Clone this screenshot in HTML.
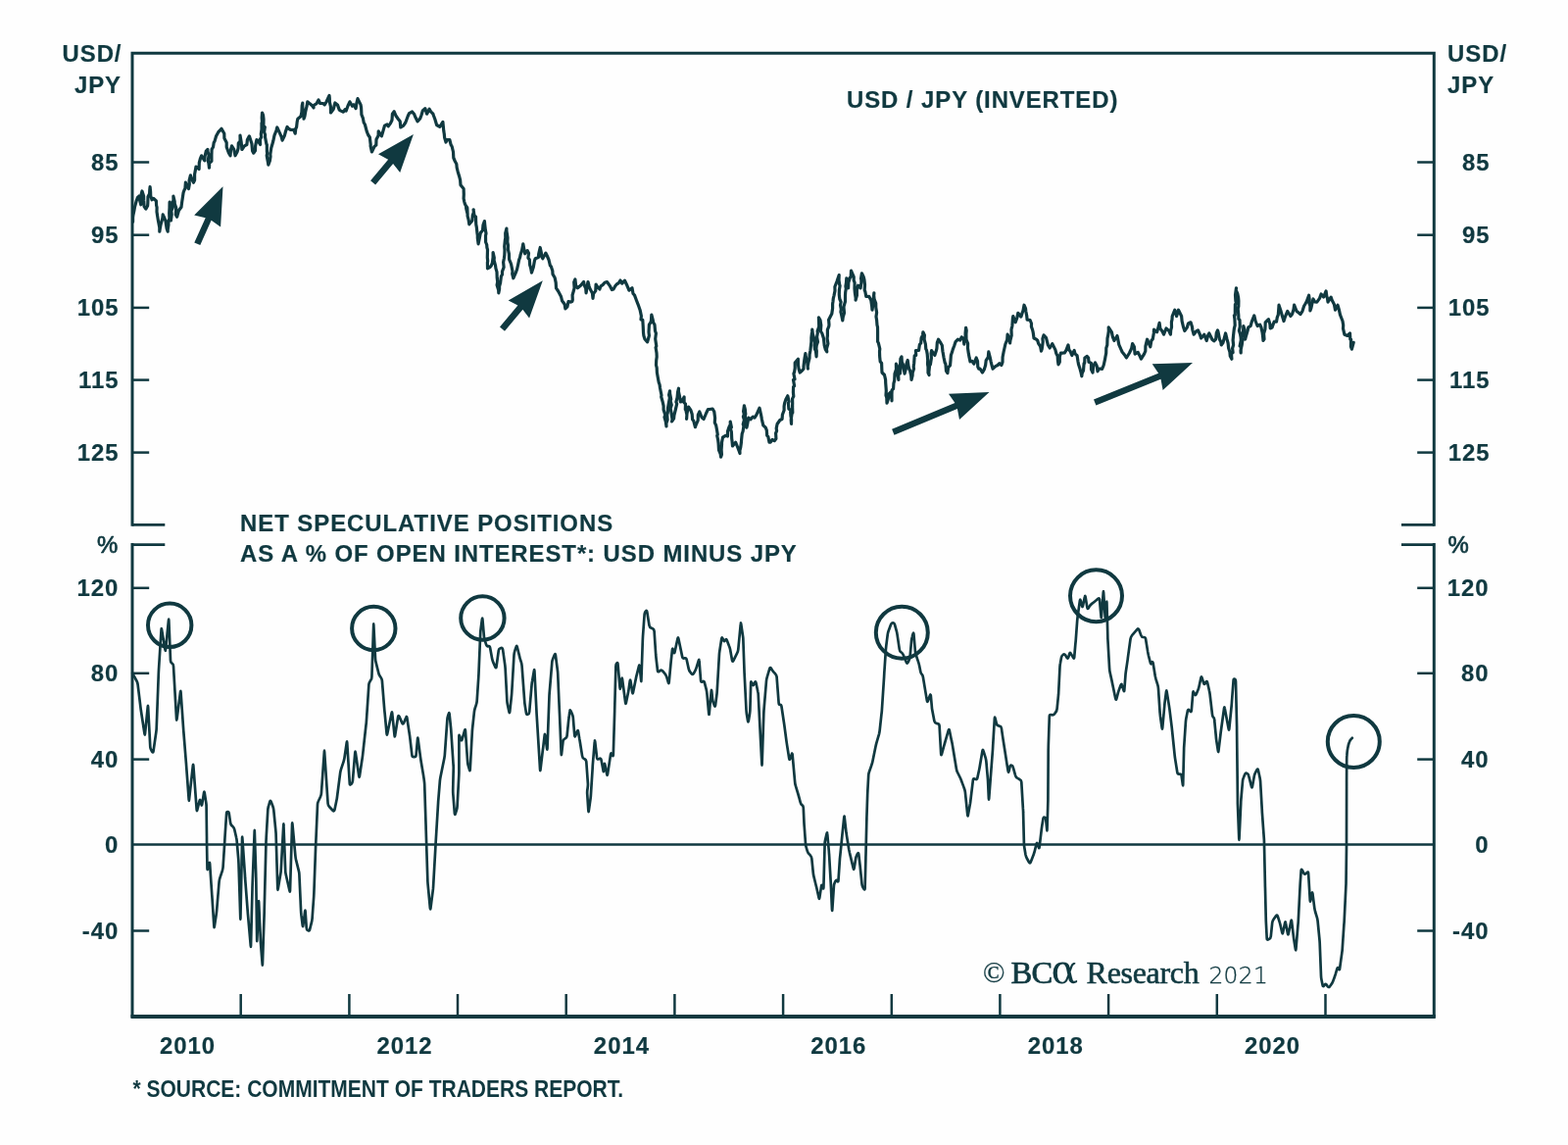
<!DOCTYPE html>
<html lang="en">
<head>
<meta charset="utf-8">
<title>USD / JPY (Inverted) and Net Speculative Positions</title>
<style>
html,body{margin:0;padding:0;background:#fefefe;}
body{width:1600px;height:1168px;overflow:hidden;}
svg{display:block;width:1600px;height:1168px;}
text{font-family:"Liberation Sans",sans-serif;font-weight:bold;fill:#103940;}
.lab{font-size:23px;letter-spacing:0.93px;stroke:#103940;stroke-width:0.2px;stroke-linejoin:round;}
.src{font-size:23px;letter-spacing:0px;}
.cr{font-family:"Liberation Serif",serif;font-weight:normal;font-size:31px;letter-spacing:0px;}
.ax{stroke:#103940;fill:none;stroke-linecap:square;}
.ln{stroke:#103940;fill:none;stroke-linejoin:round;stroke-linecap:round;}
.ar{fill:#103940;}
</style>
</head>
<body>
<svg width="1600" height="1168" viewBox="0 0 1600 1168">
<rect x="0" y="0" width="1600" height="1168" fill="#fefefe"/>
<g class="ax" stroke-width="3.0">
<path d="M135.0 535.3 V54.2 H1463.3 V535.3"/>
<path d="M135.0 555.6 V1036.4"/>
<path d="M1463.3 555.6 V1036.4"/>
</g>
<path class="ax" style="stroke-linecap:butt" stroke-width="4.0" d="M133.5 1037.0 H1464.8"/>
<g class="ax" style="stroke-linecap:butt" stroke-width="2.5">
<path stroke-width="2.7" d="M135.0 535.3 H168.3"/>
<path stroke-width="2.7" d="M1430 535.3 H1463.3"/>
<path stroke-width="2.7" d="M135.0 555.6 H168.3"/>
<path stroke-width="2.7" d="M1430 555.6 H1463.3"/>
<path d="M135.0 165.5 H152.2"/>
<path d="M1446.2 165.5 H1463.3"/>
<path d="M135.0 239.7 H152.2"/>
<path d="M1446.2 239.7 H1463.3"/>
<path d="M135.0 313.9 H152.2"/>
<path d="M1446.2 313.9 H1463.3"/>
<path d="M135.0 387.6 H152.2"/>
<path d="M1446.2 387.6 H1463.3"/>
<path d="M135.0 461.6 H152.2"/>
<path d="M1446.2 461.6 H1463.3"/>
<path d="M135.0 599.8 H152.2"/>
<path d="M1446.2 599.8 H1463.3"/>
<path d="M135.0 686.8 H152.2"/>
<path d="M1446.2 686.8 H1463.3"/>
<path d="M135.0 774.6 H152.2"/>
<path d="M1446.2 774.6 H1463.3"/>
<path d="M135.0 949.5 H152.2"/>
<path d="M1446.2 949.5 H1463.3"/>
<path stroke-width="2.5" d="M135.0 861.5 H1463.3"/>
<path d="M245.7 1014 V1036.4"/>
<path d="M356.4 1014 V1036.4"/>
<path d="M467 1014 V1036.4"/>
<path d="M577.7 1014 V1036.4"/>
<path d="M688.4 1014 V1036.4"/>
<path d="M799.1 1014 V1036.4"/>
<path d="M909.8 1014 V1036.4"/>
<path d="M1020.4 1014 V1036.4"/>
<path d="M1131.1 1014 V1036.4"/>
<path d="M1241.8 1014 V1036.4"/>
<path d="M1352.5 1014 V1036.4"/>
</g>
<path class="ln" stroke-width="3.2" d="M135.6 226.2 L135.6 221.7 L135.9 219.4 L136.8 215.2 L137.5 211.2 L139 205.6 L140.3 201.7 L141.9 200 L142.2 202.5 L143.8 208.8 L144.7 203.8 L144.2 197.9 L145 195 L146.6 200.1 L146.7 204.4 L147.1 210.7 L148.8 213.1 L150.6 210 L150.8 207.7 L151 200.7 L152.6 197.5 L152.8 193.1 L153.1 190.6 L153.6 195.6 L153.7 199.6 L155 203.8 L156.7 202.4 L159.4 205 L159.6 209.5 L160.1 211.7 L160 216 L160.6 220 L161.5 225.4 L161.8 227 L162.8 232.3 L162.8 236.2 L163.3 232.9 L163.9 229.6 L165.8 222.8 L166.2 218.8 L167.5 221.6 L169 225.5 L170.1 233 L171.2 236.2 L171.2 234.2 L171.9 229.6 L171.9 225.4 L172.9 222.7 L172.7 217.4 L173 211.8 L173.6 210.6 L173.1 206.2 L173 211.4 L173.9 213.2 L173.8 215.4 L173.5 219.8 L174.4 225 L175.2 218.9 L174.8 215 L176.2 212 L176 206.5 L177 204.4 L176.9 200 L178.2 205.7 L178.2 207.5 L179.7 212.1 L179.3 219 L180.6 221.2 L182.4 214.8 L185 211.2 L185.7 205.9 L186.1 203.3 L187.1 196.6 L188 194 L188.9 192.4 L189.4 186.2 L192.5 192.5 L193.3 188 L193.1 184.1 L194.4 178.8 L196.4 184.3 L197.5 186.2 L198.6 183.8 L198.6 177.7 L199.6 172.3 L200 170 L203.1 172.5 L203.3 166 L204.3 162.1 L205.6 158.8 L208.8 163.8 L209.1 159.3 L210.3 154.1 L211.9 152.5 L212 154.5 L213.1 157.9 L212.3 164.3 L212.9 166.4 L213.5 171.2 L213.7 166.4 L215.9 164.3 L215.9 158.4 L216.1 152.4 L217.5 150 L218.2 145.6 L219.1 143.9 L220.6 138.8 L223.1 134.2 L223.7 133.9 L226 131.2 L228.8 136.2 L228.9 141 L231.2 145.5 L231.2 150 L233.4 156 L235 158.8 L235.5 152.7 L236.5 148.8 L238.7 152.3 L240 158.8 L242 155.1 L243.1 151.2 L243.3 146.1 L245.1 143.9 L245 138.1 L246.1 144.5 L246.6 149.1 L246.9 152.5 L249.4 148.8 L251.9 147.5 L252.4 142.5 L254.4 138.8 L255.1 141 L256.9 146.4 L257.6 153.9 L258.8 156.2 L260.5 153.6 L260.6 149.1 L261.9 142.5 L263.3 143.8 L265.6 147.5 L265.4 142.1 L266.7 139.9 L266.3 136.8 L267 131.9 L267 125.4 L267.5 124.9 L267.2 120.2 L267.5 115 L268.5 117.3 L269 121.8 L268.9 128.3 L270.3 129.6 L269.6 134.7 L270.6 137.5 L270.5 139.7 L271.9 146.9 L272.3 147.4 L272.4 154.9 L272.7 156 L272.2 158.8 L273.6 166.4 L273.8 168.1 L275.3 164.2 L276 159.7 L275.8 157.4 L276.8 150.8 L278 146.7 L278.8 143.8 L280 138.1 L282 133 L282.8 130 L284.5 133.7 L287 139.1 L288.1 143.1 L290.4 138.2 L291.5 134 L293.1 129.4 L294.4 131.2 L296.7 132.5 L299.7 132.3 L301.2 136.2 L301.8 131.1 L302.6 129.7 L303.2 124.2 L303.8 121.2 L306.9 118.8 L307.9 114.4 L308.2 107.9 L308.8 105 L308.7 108 L309.4 114.3 L310.1 117.5 L310 121.2 L310.9 118.7 L311.9 113 L313.1 108.2 L313.8 103.8 L315.9 105.6 L318.6 107.8 L320 110 L320 107.5 L323.1 105.6 L325 101.9 L326.7 105.5 L329.8 105.5 L331.2 106.9 L333.1 103.7 L336 97.5 L336.3 100.2 L336.4 104.4 L337.4 108.7 L337.5 115 L340.3 111.2 L341.9 105 L344.4 106.9 L346.2 111.9 L347.4 112.9 L350.4 114.2 L352.1 111.6 L353.1 113.1 L355 108 L356.9 103.8 L359.5 108.2 L360.9 106.8 L363.1 110.6 L363.8 105.7 L365 100.6 L368.1 106.9 L368.6 110.1 L368.9 116.9 L370.4 120.7 L371.2 125 L372.4 127 L374.2 133.9 L375.6 137.5 L377.3 140 L378.2 147.5 L378.1 148.9 L379.4 155 L382 149.5 L383.8 148.1 L384 142.3 L386.1 138.2 L386.2 133.8 L389.4 138.8 L390.6 134.8 L392.5 128.1 L395 126.9 L396.2 128.8 L398.4 125.9 L400 122.5 L400.4 116.3 L402.2 113.8 L404.1 118.3 L406.2 121.2 L408.2 123.7 L408.8 130 L411.7 128.1 L413.8 125 L416.2 118.5 L417.5 115.6 L420.6 114 L422.5 116.2 L424 119.8 L426 123.8 L428.7 120.9 L430 117.5 L431.3 113 L433.8 110.6 L435.6 116.2 L438.1 111.2 L439.6 113.9 L441.9 116.2 L442.6 118.3 L443.9 121.8 L445.6 127.5 L448.8 129.4 L451.9 124.4 L452.2 127.7 L452.8 133.8 L453.3 136.8 L453.6 140.2 L455 145 L456.1 142.7 L458.8 142.5 L460.1 147.7 L461.2 149.5 L462.5 155 L462.8 161 L464.3 164.5 L465.8 167.2 L466.2 171.2 L467.2 175.2 L468.9 180.8 L469.6 183.7 L470 188.8 L473.1 192.5 L473.3 198.4 L473.1 202.5 L473.8 205.8 L474.4 208 L476.3 211.9 L476.9 217.5 L475.7 212.7 L475.6 210 L476.8 211.9 L477.1 219.1 L477.1 220.3 L478.1 224.1 L478.8 228.8 L481.9 225 L482.2 219.7 L483.4 216.5 L483.1 213.8 L484 220 L485.5 221 L485.6 226.2 L485.8 229.2 L486.3 231.6 L486.9 237.4 L487.3 239.9 L487.3 242.8 L488.1 248.8 L489.4 242.4 L490.3 237.6 L492.5 235 L493 229.5 L494.4 225.6 L494.8 229.8 L495.3 234.4 L496 238.1 L495.5 240.5 L495.6 247 L496.7 249.6 L496.9 252.5 L497.5 254.7 L497.3 262.7 L497.7 266.3 L497.4 267.9 L497.5 273.8 L499.9 272.5 L501.2 271.2 L502.4 268 L503.1 262.5 L503.1 257.5 L504.3 262.9 L504.1 265.5 L505.6 271.2 L505.9 273.6 L507 277.4 L507.2 283.3 L507.7 287.5 L507.1 290.8 L508.7 296.1 L508.8 298.8 L509.6 295 L509.6 292 L510.6 288.5 L511.4 281.9 L512.5 280 L512.5 276.8 L514.1 272.7 L513.6 267.5 L514.4 263.2 L514.8 260.3 L515 255 L514.7 251.3 L515.4 244.7 L515.8 242.9 L515.7 237.8 L516.9 233.1 L516.9 235.5 L518 242.4 L517.8 246.7 L518.5 250.3 L518.4 254.3 L519.4 258.8 L519.6 264.6 L521.5 269.2 L521.5 269.1 L523 276.8 L522.7 279.4 L523.8 283.8 L526.3 278.1 L527.5 275 L528.7 269.6 L529.6 265.1 L530.6 262.5 L531.1 259.9 L532.7 254.7 L533.8 248.8 L535 255.5 L535.6 258.8 L538.1 255.6 L539.5 258.2 L538.9 263.1 L540.3 264.7 L540.7 270.4 L541.5 272.8 L542.5 278.1 L544.3 272.5 L545.4 266.3 L546.2 263.8 L549.4 262.5 L549.7 259 L551.2 252.5 L552.4 258.1 L552.6 261.8 L553.8 263.8 L556.9 258.1 L558.3 261 L560 265 L561.4 270.9 L562.4 271.9 L563.8 276.2 L564 279.6 L566.1 283.2 L567.2 288.4 L567.5 293.8 L569.6 297 L572.5 302.5 L573.5 306.7 L576.1 310.3 L576.9 315 L578.9 312.9 L580 307.5 L582.5 308.1 L583.8 307.5 L584.3 305.7 L584.1 301 L585.2 297.3 L586.1 293.6 L585.7 287.8 L586.9 285 L587.6 291.3 L589.4 293.8 L592.5 291.2 L595.6 287.5 L596.2 291.1 L597.7 294.1 L598.1 298.8 L598.4 297.1 L599.1 291.9 L600 287.5 L601.1 292 L602 294.5 L604.4 298.9 L605 304.4 L605.6 299.6 L607.8 296.6 L608.1 290 L609.4 292.3 L611.9 295 L613.1 291.8 L615 290.6 L617.1 288.2 L619.4 287.5 L622.5 291.9 L624.4 295.6 L626 295 L627.8 291.8 L629.3 289.9 L631.2 288.8 L633 286 L634.8 289.1 L637.5 286.2 L639.9 291.3 L641.9 296.2 L645 293.8 L646 299.5 L647.5 301.1 L649.4 306.2 L651.2 310.8 L653.1 316.2 L654.4 322.3 L654 326 L655.8 326.4 L656.2 332.5 L656.5 339.2 L656.9 342.5 L658 346 L660.6 348.8 L661.9 344.3 L662.4 342.3 L662 338.9 L662.4 331.2 L663.9 329 L664.5 326.9 L664.8 321 L666.1 325.8 L666.7 329.1 L668 331.3 L668.5 337.5 L669.4 340.1 L668.7 345.6 L668.9 347.1 L669.8 353.1 L669.1 354.5 L670 360 L670.2 364.1 L669.7 367.5 L669.5 372.4 L670.2 375.1 L670.4 380 L671.5 386.2 L672.2 390 L673.1 392.5 L673.5 395.7 L675 403.3 L674.7 404.8 L676.2 410 L677.1 414.2 L677.1 418 L678.8 423.2 L678 425.5 L679.3 430.1 L680 435 L679.9 431.8 L681.1 428.3 L680.7 422.9 L681.3 421 L681.5 416.3 L682.7 409.6 L683.4 405.9 L682.6 402.8 L683.5 398.8 L683.6 401.4 L684.7 407.3 L684.1 408.9 L685.3 413.1 L684.1 416.7 L684.9 420.3 L686 427.8 L685.6 430 L687.6 426.9 L687.9 423.6 L689.4 417.5 L690.7 411.9 L689.9 410.1 L691.1 405.5 L691.6 399.9 L692.5 396.2 L692.4 399.4 L693.5 404.4 L694.4 410 L695.7 409.5 L698.1 405 L698.1 410.8 L699.5 411.9 L699.3 417.7 L699.8 418 L700.9 423.2 L700.6 427.5 L701 422 L701.2 420.9 L702.5 415 L704.9 418.4 L706.2 422.5 L706.6 428 L707.7 429.2 L709.4 435.6 L710.1 433.6 L712.2 428.9 L712.3 423.2 L713.8 420 L716.1 425.8 L718.1 427.5 L720.6 421.5 L722.5 417.5 L724.2 417.5 L727.1 417 L728.8 420 L729.6 426.4 L729.3 431.1 L730.6 433.8 L731.1 436.3 L732.3 443.3 L731.7 444.5 L732.6 448.4 L733.1 452.5 L733.5 459 L735.2 463 L735.6 466.2 L736.4 463.7 L736.1 458.7 L736.5 453.5 L736.5 451.5 L737.5 446.2 L740.4 444.3 L742.5 445 L742.5 440.1 L744 435.4 L745.3 433 L745.2 430 L746.4 435.9 L745.4 437.3 L746.4 440.7 L746.7 447.6 L747 449.7 L747.5 455 L750.6 451.2 L752.4 455.5 L754.1 459.8 L755 462.5 L754.9 459.5 L755.7 456.5 L756.4 451.5 L756.6 448.5 L757.2 442.6 L758.1 440 L758.9 434.7 L758.2 432.8 L759.4 428.3 L758.4 425 L759.3 422.6 L758.6 419.7 L759.4 413.8 L760.3 417.4 L760.8 422.7 L760.3 423 L760.6 427.1 L761.6 434.6 L761.9 436.2 L762.6 433.1 L763.8 426.2 L765.8 427.9 L768.3 425.2 L770 426.2 L771.9 423.2 L775 416.2 L776.1 421 L776.7 423.8 L777.4 427.8 L778.8 433.8 L781.2 436.2 L782.3 438.9 L782.7 444.4 L783.8 445.4 L785 451.2 L786.2 451.1 L788 448.5 L790.2 449.7 L791.9 447.5 L791.6 441.8 L792.6 439.5 L792.2 436.9 L793.1 432.5 L795.9 428.5 L798.1 427.5 L798.4 423 L800.1 418.5 L800.1 414.5 L800.6 411.2 L802.1 406.9 L803.8 403.8 L805.1 409.5 L804.4 411.4 L804.9 417.1 L806.5 418 L806.9 424 L807.6 428 L807.5 432.5 L807.2 428.3 L808 422.2 L808.8 420.9 L808.6 414.4 L808.7 411.6 L808.6 406.6 L809.8 404.2 L809.4 400 L809.6 394.5 L810.6 393.8 L809.5 387.4 L811 386.9 L809.9 381.2 L810.6 379.4 L811.2 375.5 L811.2 370 L814.4 366.2 L814.5 372.3 L815.2 376.7 L816.2 380 L818.7 377.7 L820 376.2 L820 373.8 L820.8 367.2 L821.2 364.6 L821.9 360.6 L822.1 362.9 L823.7 369.4 L823.8 370.3 L824.4 376.2 L824.2 373.6 L824.8 370.2 L826 365.4 L826.1 361.8 L826.9 357.5 L827.4 352.9 L827.9 348.7 L827.9 344.5 L828.6 338.4 L828.8 336.2 L829.3 340.6 L830.6 345 L831.6 349.9 L831.1 352.3 L831.5 356.1 L832.5 358.4 L833.1 363.8 L833.3 358 L832.9 355.8 L833.2 352.4 L834.5 348.8 L833.6 343.8 L834.3 339.8 L834.1 337.7 L835.7 333.3 L835.6 328.8 L835.4 323.8 L837 326.5 L837.8 331.8 L837.4 337.8 L838.8 340 L840.4 345 L840.5 345.6 L841.2 352.4 L842.4 356.7 L843.8 358.8 L843.4 356.1 L844.9 350.6 L844.1 345.3 L844.4 342.5 L844.4 336.4 L845.8 332.9 L846 331.1 L845.6 326.2 L848.8 320 L849.6 314.4 L849.6 310 L850 307.5 L850.3 304.3 L851 301.6 L852 296.6 L851.9 292.5 L854.1 286.8 L854.6 285.2 L856.2 280.6 L856 285.8 L856.7 290.4 L857.1 291.5 L856.4 295.7 L856.3 300.8 L856.8 305 L858.1 308 L857.5 311.2 L858.3 315.5 L857.9 318.2 L858.6 320.9 L859.8 326.9 L860.2 323.5 L861.5 319.2 L861 313.6 L861.2 312 L862.5 307.5 L862.5 301.4 L862.7 297.9 L863.3 294.4 L862.9 292.1 L863.5 288.3 L863.8 283.8 L865.4 287.1 L865.6 293.8 L865.8 288.2 L867.3 283.2 L868.2 282.3 L868.5 276.2 L871.2 282.5 L871.2 286 L872.1 288.3 L872 294.6 L872.4 299 L873.2 304.2 L873.1 306.2 L874.4 301.4 L874.4 296.7 L874.6 294.6 L875.6 291.2 L878.1 293.8 L878.9 288.1 L878.8 284.1 L878.5 284.4 L879.4 278.8 L881.2 282.5 L881.9 285.2 L882.5 290.5 L882.2 295.9 L882.9 297.7 L883.8 302.5 L886.8 302.4 L888.8 306.2 L889.7 312.5 L890 316.2 L891 309.7 L890.9 308.6 L891.3 304.2 L891.9 298.8 L891.7 301.3 L892.1 305.1 L893.7 309.3 L893.8 313.8 L894.6 318.8 L894 323 L894.6 326.5 L895 331.7 L895.5 333.6 L895.6 338.8 L895.6 344.8 L895.6 348.4 L896.3 349.7 L897.8 355.8 L897.5 358.8 L897.7 364.1 L898.2 368.9 L899.6 370.4 L899.8 376.3 L900 380 L902.5 382.5 L903.6 387.3 L903.7 390.6 L904.1 395.7 L904.3 398.7 L904 403.3 L904.8 405.9 L905 411.2 L906.9 405.6 L906.8 402.2 L908.8 400 L910 402.6 L910 408.8 L909.9 403.7 L910.2 397.9 L911.6 396.5 L911.9 391.2 L912.7 388.1 L913 381.3 L913.9 378.6 L914.5 376.7 L914.4 371.2 L915.6 373.4 L916.3 381.2 L915.8 381.7 L916.9 387.5 L916.7 381.8 L918.4 381.1 L918.9 376.2 L918.6 372.2 L918.9 365.9 L920 363.8 L920.3 369.3 L921.4 371.7 L922 374.8 L923.1 381.2 L924.5 375.7 L924.9 371.5 L926.2 367.5 L927 373.5 L927.9 377 L928.4 377.4 L929.7 383.2 L930 387.5 L931.1 383.1 L931.2 380.2 L932.5 376.2 L932.2 374.1 L932.7 370.2 L933.2 362.8 L934.7 362.4 L934.4 357.5 L937.5 357.5 L938.4 351.6 L939.7 350 L940.1 344.9 L941.5 341.8 L941.9 338.8 L943.4 341.9 L943.1 346.1 L944.4 351.2 L944.8 356 L945.5 357.3 L946.2 361.1 L946.7 367.7 L946.5 371.3 L947 374.3 L947 380.3 L948.1 382.5 L947.8 380 L948.6 372.9 L949.4 371.8 L950.4 365.3 L950.1 360.5 L950.6 357.5 L953.8 362.5 L955.1 358.6 L955.9 355.5 L956.3 349.6 L957.5 346.2 L960 350 L961.3 352.2 L961.9 358.2 L962.2 359.8 L963.1 365 L964.2 370.1 L964.9 371.2 L965.5 378.4 L966.9 380.6 L967.6 374.9 L969.5 372.8 L970 367.5 L970.4 362.2 L971.6 358.9 L972.3 356.3 L973.8 352.5 L975.1 348.6 L977.5 346.2 L979.7 347.1 L981.2 343.8 L983.2 345.7 L983.8 351.2 L984 345.3 L985.1 344.9 L985.1 339.6 L985.6 334.4 L986.2 337.2 L985.9 340.9 L986 346.3 L987.6 350.4 L987.5 355 L988.3 360.4 L989.1 364.7 L990 368.8 L992 368.4 L993.8 371.2 L996.2 365 L997.5 368.3 L997.8 374.3 L998.8 376.2 L1000 376.2 L1002.5 380 L1004.4 376.6 L1005.6 372.5 L1006.2 367.6 L1008.3 364.3 L1008.8 358.8 L1010.2 364.3 L1011.2 369.1 L1012 372.5 L1013.1 376.2 L1015.8 373.6 L1018.1 372.5 L1019.9 370.7 L1021.9 372.5 L1023 369.4 L1023.1 364.3 L1024.1 359 L1025 355 L1025.9 351 L1027.7 346.6 L1028.1 341.2 L1029.6 344.2 L1030.6 350 L1030.9 347.3 L1032.2 342.1 L1032 336.2 L1032.8 332.8 L1032.9 332.3 L1033.4 324.7 L1033.8 322.5 L1036.2 328.8 L1037.8 324.2 L1038.8 319.4 L1041.9 323.1 L1043.1 319.2 L1044 316.7 L1045 311.2 L1046.5 314.6 L1046.8 317.5 L1047.7 322 L1048.1 326.2 L1051.1 326.5 L1052.5 330 L1052.4 333.1 L1053.6 336.5 L1054.2 339.1 L1055 345 L1057.2 345.9 L1058.8 347.5 L1059.6 350.4 L1061.6 353.4 L1062.5 358.1 L1063.2 356 L1064.2 348.8 L1063.9 345.5 L1065 341.9 L1067.5 344.6 L1069.4 352 L1071.2 355 L1073.8 350.6 L1076.9 356.9 L1077.8 360.5 L1079.2 363.2 L1079.4 367.5 L1080 371.9 L1081.3 369.3 L1081.3 363.8 L1082.5 360 L1083.8 360.2 L1086.2 360 L1087.9 357.4 L1090 351.9 L1090.9 357 L1092.1 358.4 L1093.8 362.5 L1096.2 357.5 L1097 360.9 L1099.1 362.8 L1100 368.8 L1100.5 371.5 L1101.8 375.4 L1103 379.7 L1103.8 383.8 L1104.2 380.7 L1105.5 378.1 L1106.1 370.6 L1106.7 370.5 L1106.9 365 L1109.3 363.4 L1110.6 365 L1111 369.3 L1113.5 370.4 L1113.5 376.9 L1115 380 L1115.7 373.2 L1117.5 370 L1119.2 373.2 L1120 378.8 L1121.5 376 L1124.6 376.4 L1126.2 372.5 L1127.5 366.7 L1127.9 364.2 L1128.7 360.1 L1128.8 355 L1129.8 352 L1130 345.2 L1130.6 342.4 L1131.3 337.7 L1131.2 333.8 L1134.4 338.8 L1135.3 343.4 L1136.9 347.5 L1140 342.5 L1140.7 345.9 L1141.8 351.6 L1143.8 356.2 L1145.1 359 L1147.5 362 L1149.4 365 L1152.5 360 L1154.6 355.5 L1155.6 350.6 L1157.4 353.8 L1158.1 361.2 L1161.2 359.4 L1162.9 362.7 L1164.4 366.2 L1167.5 361.2 L1168.8 358.2 L1168.9 353.2 L1169.2 352 L1170.6 346.2 L1172.4 350.6 L1173.8 353.8 L1174.9 347.3 L1176.3 345.8 L1177.3 339.9 L1177.5 336.2 L1180.6 338.8 L1181.9 334.1 L1183.1 329.4 L1183.9 335.1 L1186.2 338.3 L1187.5 341.2 L1190 335 L1192.7 337.4 L1194.4 341.2 L1194.7 336.9 L1195.5 333.9 L1195.4 328.7 L1196 325.9 L1196.2 322.5 L1198.8 316.2 L1200.6 322.5 L1202.5 316.2 L1205.6 322.5 L1206.1 327.7 L1207 331.4 L1207.6 333.8 L1208.8 337.5 L1211.4 333.8 L1212.5 330 L1215 328.8 L1216.5 333.6 L1216.8 336.3 L1218.1 341.2 L1220.4 338.2 L1222.5 336.9 L1224.5 341.5 L1225.6 345 L1228.8 341.2 L1231.2 347.5 L1232.8 341.7 L1233.8 340 L1236.9 346.2 L1238.8 347.9 L1240.6 346.2 L1241.3 339.6 L1242.5 336.9 L1243 338.5 L1244.5 346.2 L1245.8 348.8 L1246.2 351.9 L1247.9 349.7 L1249.4 344.5 L1250.6 340 L1252 345.9 L1253.1 350 L1253.6 354.9 L1254.9 358.9 L1255.3 363.3 L1256.9 366.2 L1256.5 360.9 L1258.1 359.6 L1257.6 355.2 L1258.6 352 L1258.1 347 L1258.6 341.9 L1259 338.1 L1259.4 335 L1260.2 331.9 L1259.9 325.5 L1259.4 321.7 L1260.3 321.4 L1260.3 318.1 L1260.4 310.4 L1261.4 309.2 L1260.9 307.1 L1260.5 300.9 L1260.9 298.1 L1261.5 293.8 L1261.2 296 L1262.7 299.1 L1263.6 303.3 L1263.9 306.9 L1263.8 312.5 L1263.2 314.8 L1263.8 321.4 L1263.9 325.4 L1265 326.4 L1265.3 333.2 L1264.4 337.3 L1265.5 340.8 L1266.1 344 L1266.3 347 L1265.1 353 L1266.3 353.9 L1266.2 360 L1266 357.5 L1267.3 351.3 L1267.9 346.7 L1267 344.2 L1268.2 339.8 L1268.7 336.2 L1268.8 332.5 L1269.8 335.5 L1270.2 341.1 L1270.6 346.2 L1271.5 342.7 L1273.1 337.4 L1273.8 333.8 L1276.1 332.6 L1277.5 327.5 L1279.8 321.9 L1281.1 327.5 L1283.1 332.5 L1285.7 331.2 L1286.9 333.8 L1288.1 339.2 L1288.5 342.2 L1289 347.5 L1290 345.9 L1289.6 340.4 L1290.9 335.9 L1291.1 332 L1291.2 328.8 L1294.4 325.6 L1295.9 330.8 L1296.2 335 L1298 334.1 L1300.1 328.2 L1302.5 328.1 L1303.3 323.6 L1304.3 321.1 L1304.9 313.5 L1305 311.2 L1307.1 317.6 L1308.1 321.2 L1310 327.5 L1311.5 322.8 L1313.8 317.5 L1316.9 322.5 L1318.6 320.3 L1320 315.8 L1320.6 311.2 L1323.1 317.5 L1324.4 318.4 L1326.9 320.6 L1329 317.3 L1330.6 312.2 L1331.9 310 L1333.3 307.5 L1335.6 301.2 L1336.2 305.6 L1335.8 308.9 L1336.9 311.9 L1336.9 316.9 L1337.9 314.2 L1339.4 307.1 L1340 305 L1341.5 307.8 L1343.8 308.1 L1346.5 304.4 L1348.1 300 L1350.6 303.1 L1353.1 296.9 L1353.8 302.3 L1354.5 304.3 L1355 308.1 L1358.1 303.1 L1359.1 306.1 L1361.4 310.5 L1362.5 316.2 L1365 311.2 L1366.3 315.6 L1367.5 321.2 L1370 327.5 L1370.7 331.7 L1370.5 335.1 L1371.9 341.2 L1375 342.5 L1377.5 340 L1377.8 346.2 L1378.6 346.4 L1378.4 353.5 L1379.4 356.2 L1381.2 349.4"/>
<path class="ln" stroke-width="2.7" d="M135.2 686.9L139.4 694.5 Q140.3 696.2 140.6 698.2L143.8 724.3 Q144.1 726.2 144.4 728.2L147.5 748.6 Q147.8 750.6 148 748.6L150.8 720.7 Q151 718.8 151.1 720.7L153.3 761.8 Q153.4 763.8 154.5 765.5L155.2 766.7 Q156.2 768.4 156.5 766.5L159.3 747 Q159.6 745 159.7 743L161.8 687 Q161.9 685 162 683L164.6 642 Q164.7 640 165 642L168.5 662.8 Q168.8 664.8 169 662.8L172 632.6 Q172.2 630.6 172.3 632.6L174 673.6 Q174.1 675.6 175.2 676.4L175.8 676.8 Q176.9 677.5 177 679.5L180.1 733.6 Q180.2 735.6 180.5 733.6L184.1 705.7 Q184.4 703.8 184.5 705.7L187.1 743 Q187.2 745 187.4 747L189.8 776.8 Q190 778.8 190.1 780.7L192.7 815.8 Q192.8 817.8 193 815.8L196.9 780.7 Q197.1 778.8 197.3 780.7L200.7 826.1 Q200.9 828.1 201.3 826.2L203.6 816.9 Q204.1 815 204.5 816.9L205.5 820.6 Q205.9 822.5 206.2 820.5L208.1 808.5 Q208.4 806.6 208.7 808.5L210.3 818.7 Q210.6 820.6 210.6 822.6L211 854.3 Q211 856.2 211 858.2L211.5 886.1 Q211.6 888.1 212.1 886.2L213.5 880.7 Q214 878.8 214.1 880.7L216.1 910.5 Q216.2 912.5 216.4 914.5L218.4 945.2 Q218.5 947.2 218.8 945.2L220.6 933.2 Q220.9 931.2 221.1 929.3L223.6 899.5 Q223.8 897.5 224.4 895.6L226.9 888.1 Q227.5 886.2 227.6 884.3L229.3 858.2 Q229.4 856.2 229.5 854.3L231.1 830.1 Q231.2 828.1 232.2 828.1L232.6 828.1 Q233.5 828.1 233.8 830.1L235.1 839.3 Q235.4 841.2 236.7 842.4L237.4 842.9 Q238.8 844.1 239.2 846L241.1 854.3 Q241.6 856.2 241.7 858.2L243.3 876.8 Q243.4 878.8 243.5 880.7L245.3 936.8 Q245.3 938.8 245.4 936.8L247.1 854.5 Q247.2 852.5 247.3 854.5L249.9 891.8 Q250 893.8 250.1 895.7L252.7 929.3 Q252.8 931.2 253 933.2L255.8 964.9 Q256 966.9 256 964.9L257.5 907 Q257.5 905 257.6 903L259.7 847.9 Q259.8 845.9 259.8 847.9L261.2 891.8 Q261.2 893.8 261.3 895.7L262.2 959.3 Q262.2 961.2 262.3 959.3L264 920.1 Q264.1 918.1 264.1 920.1L265.9 959.3 Q265.9 961.2 266.1 963.2L267.7 983.6 Q267.8 985.6 267.9 983.6L269.6 933.2 Q269.7 931.2 269.7 929.3L271.5 858.2 Q271.6 856.2 271.7 854.3L273.3 826.4 Q273.4 824.4 274 822.5L275.3 817.9 Q275.9 815.9 276.6 817.8L278.4 822.5 Q279.1 824.4 279.3 826.4L281.3 846.8 Q281.5 848.8 281.6 850.7L283.3 906.8 Q283.4 908.8 283.7 906.8L286.2 892 Q286.6 890 286.7 888L289.3 841.4 Q289.4 839.4 289.4 841.4L291.2 888 Q291.2 890 291.7 892L295.5 908.7 Q295.9 910.6 296 908.6L298.1 840.4 Q298.2 838.4 298.4 840.4L301.4 873 Q301.6 875 302 876.9L304.8 888.1 Q305.3 890 305.4 892L307.1 929.3 Q307.2 931.2 307.4 933.2L308.8 944.3 Q309.1 946.2 309.3 944.3L311.2 929.5 Q311.5 927.5 311.6 929.5L312.7 946.1 Q312.8 948.1 313.9 948.9L314.5 949.2 Q315.6 950 316.1 948.1L318 940.7 Q318.4 938.8 318.6 936.8L320.2 914.5 Q320.3 912.5 320.4 910.5L322.1 863.9 Q322.2 861.9 322.3 859.9L324 820.7 Q324.1 818.8 325 817L326.9 813 Q327.8 811.2 327.9 809.3L330.9 766.7 Q331 764.7 331.1 766.7L334.6 819.6 Q334.8 821.6 336.1 823L339.6 826.7 Q340.9 828.1 341.4 826.2L343.3 817 Q343.8 815 344 813L347.2 788.2 Q347.5 786.2 348.1 784.4L350.6 776.9 Q351.2 775 351.5 773L353.8 757.3 Q354.1 755.3 354.2 757.3L356.8 799.3 Q356.9 801.2 358 800.1L358.6 799.6 Q359.7 798.4 359.9 796.4L362.3 767.6 Q362.5 765.6 362.8 767.6L366.3 791.8 Q366.6 793.8 366.9 791.8L369.7 773.2 Q370 771.2 370.2 769.3L373.5 739.5 Q373.8 737.5 373.9 735.5L376.4 698.2 Q376.6 696.2 377.7 694.8L378.2 694 Q379.4 692.5 379.4 690.5L381.2 637.3 Q381.2 635.3 381.3 637.3L383 671.8 Q383.1 673.8 383.6 675.7L386.4 686.8 Q386.9 688.8 388 690.2L388.6 691 Q389.7 692.5 389.9 694.5L392.3 724.3 Q392.5 726.2 392.7 728.2L394.6 748.6 Q394.8 750.6 395.2 748.7L399.6 727.3 Q400 725.3 400.2 727.3L402.6 750.5 Q402.8 752.5 403.1 750.5L406.2 731 Q406.6 729.1 407.4 730.9L410.4 737.6 Q411.2 739.4 412 737.5L414.3 731.9 Q415 730 415.3 732L417.5 746.8 Q417.8 748.8 418.1 750.7L420.4 770.2 Q420.6 772.2 422.1 772.2L422.9 772.2 Q424.4 772.2 424.6 770.2L426.1 753.6 Q426.2 751.6 426.5 753.5L429.1 773 Q429.4 775 429.7 777L431.9 789.9 Q432.2 791.9 432.5 793.9L432.8 796.1 Q433.1 798.1 433.2 800.1L434.6 843 Q434.6 845 434.7 847L436.4 899.3 Q436.5 901.2 436.7 903.2L438.9 926.4 Q439.1 928.4 439.4 926.5L441.9 907 Q442.1 905 442.2 903L444.3 865.7 Q444.4 863.8 444.5 861.8L447.1 818.9 Q447.2 816.9 447.4 814.9L448.9 796.4 Q449.1 794.4 449.5 792.4L453.4 773.2 Q453.8 771.2 453.9 769.3L456.4 733.9 Q456.6 731.9 457.2 730L457.8 728.1 Q458.4 726.2 458.6 728.2L460.1 743 Q460.3 745 460.4 747L462.6 780.5 Q462.8 782.5 462.7 784.5L462.2 805.5 Q462.2 807.5 462.3 809.5L463.9 829.9 Q464.1 831.9 464.7 830L465.9 826.3 Q466.5 824.4 466.6 822.4L468.3 790.7 Q468.4 788.8 468.4 786.8L468.4 750.8 Q468.4 748.8 469 750.6L470.3 754.4 Q471 756.2 471.5 754.3L474.2 745 Q474.8 743.1 474.9 745.1L477.1 776.8 Q477.2 778.8 477.7 780.7L479.1 785.3 Q479.6 787.2 479.7 785.2L481.8 747 Q481.9 745 482.1 743L483.9 726.4 Q484.1 724.4 484.7 722.5L485.9 718.8 Q486.6 716.9 486.7 714.9L488.3 690.7 Q488.4 688.8 488.5 686.8L490.2 645.7 Q490.3 643.8 490.6 641.8L491.9 631.7 Q492.2 629.7 492.4 631.7L493.9 649.3 Q494.1 651.2 494.7 653.1L496.2 657.8 Q496.9 659.7 498 659.3L498.6 659.1 Q499.7 658.8 500.1 660.7L502.1 671.8 Q502.5 673.8 503.3 675.6L505.4 680.4 Q506.2 682.2 506.5 680.2L508.8 663.5 Q509.1 661.6 510.6 661.2L511.3 661 Q512.8 660.6 513.1 662.6L515.4 679.3 Q515.6 681.2 515.7 683.2L517.4 714.9 Q517.5 716.9 517.9 718.8L519.5 726.2 Q519.9 728.1 520.2 726.1L522 709.5 Q522.2 707.5 522.3 705.5L524.5 668.2 Q524.6 666.2 525.2 664.3L526.7 659.7 Q527.2 657.8 527.7 659.8L530.2 669.9 Q530.6 671.9 531.3 673.8L531.9 675.6 Q532.5 677.5 532.6 679.5L535.2 714.9 Q535.3 716.9 535.6 718.9L536.9 727.1 Q537.2 729.1 538.3 728.7L538.9 728.5 Q540 728.1 540.2 726.1L542.6 698.2 Q542.8 696.2 543.2 694.3L544.9 684.2 Q545.2 682.2 545.4 684.2L547.4 724.3 Q547.5 726.2 547.6 728.2L551.1 785.2 Q551.2 787.2 551.5 785.2L553.8 765.7 Q554.1 763.8 554.3 761.8L555.7 749.8 Q555.9 747.8 556.2 749.8L558.1 763.6 Q558.4 765.6 558.5 763.6L560.5 709.5 Q560.6 707.5 560.8 705.5L563.3 675.7 Q563.4 673.8 564.2 671.9L565.8 668.1 Q566.6 666.2 566.9 668.2L568.8 683 Q569.1 685 569.2 687L570.8 724.3 Q570.9 726.2 571 728.2L572.7 769.3 Q572.8 771.2 573 769.3L574.5 756.4 Q574.7 754.4 576.2 753.6L576.9 753.2 Q578.4 752.5 578.6 750.5L580.1 735.7 Q580.3 733.8 580.6 731.8L581.4 725.4 Q581.6 723.4 582.5 725.3L583.8 728.2 Q584.6 730 584.8 732L586.3 750.5 Q586.5 752.5 587.2 750.6L589 745.9 Q589.7 744.1 590 746L591.2 753.3 Q591.6 755.3 591.9 757.3L594.1 771.1 Q594.4 773.1 595.9 773.9L596.6 774.2 Q598.1 775 598.3 777L599.9 799.3 Q600 801.2 599.7 803.2L599.4 805.5 Q599.1 807.5 599.2 809.5L600.4 827.1 Q600.6 829.1 600.8 827.1L602.5 815.1 Q602.8 813.1 602.9 811.1L604.6 784.5 Q604.7 782.5 604.8 780.5L606.8 756.4 Q606.9 754.4 607.2 756.4L609.1 773 Q609.4 775 610.9 774.2L611.6 773.9 Q613.1 773.1 613.5 775.1L615.6 786.2 Q615.9 788.1 616.1 786.1L616.7 779.8 Q616.9 777.8 617.3 779.8L619.3 789.9 Q619.7 791.9 620 789.9L623.1 769.5 Q623.4 767.5 624.3 769.3L624.8 770.4 Q625.7 772.2 625.8 770.2L627.1 728.2 Q627.2 726.2 627.2 724.3L628.4 679.5 Q628.5 677.5 629.2 676.8L629.6 676.4 Q630.4 675.6 630.5 677.6L632.6 701.8 Q632.8 703.8 633.1 701.8L634.4 692.6 Q634.7 690.6 635 692.6L638.2 716.8 Q638.4 718.8 638.9 716.8L640.8 707.6 Q641.2 705.6 641.5 703.6L642.8 694.5 Q643.1 692.5 643.4 694.5L645.3 706.5 Q645.6 708.4 646 706.5L648.4 694.5 Q648.8 692.5 649.2 690.6L652 679.4 Q652.5 677.5 652.7 679.5L654.2 694.3 Q654.4 696.2 654.4 694.3L655.8 653.2 Q655.9 651.2 656 649.3L657.6 627 Q657.8 625 658.6 623.9L659.1 623.3 Q660 622.2 660.3 624.2L662.5 638 Q662.8 640 664.7 640.7L665.6 641.1 Q667.5 641.9 667.6 643.9L669.2 668 Q669.4 670 669.6 672L671 684 Q671.2 685.9 672.8 684.8L673.5 684.2 Q675 683.1 676.3 684.7L678.4 687.2 Q679.7 688.8 680.3 690.7L681.9 696.2 Q682.5 698.1 682.7 696.1L684.6 675.7 Q684.8 673.8 685 671.8L686 662.6 Q686.2 660.6 686.8 662.5L687.6 665.3 Q688.1 667.2 688.5 665.2L691.5 651.3 Q691.9 649.4 692.3 651.3L696.2 669.9 Q696.6 671.9 698.1 671.5L698.8 671.3 Q700.3 670.9 700.7 672.9L702.7 682.1 Q703.1 684.1 704.4 685.6L705.6 687.2 Q706.9 688.8 707.8 687L709 684.9 Q710 683.1 710.6 681.2L712.8 673.8 Q713.4 671.9 713.5 673.9L715.1 694.3 Q715.2 696.2 716.5 695.5L717.2 695.1 Q718.4 694.4 718.9 696.3L720.8 703.7 Q721.2 705.6 721.4 707.6L723.3 728 Q723.5 730 723.7 728L725.8 704.8 Q725.9 702.8 726.2 704.8L727 713 Q727.2 715 727.9 716.9L729 719.7 Q729.7 721.6 730 719.6L731.3 709.5 Q731.6 707.5 731.7 705.5L733.9 668.2 Q734 666.2 734.3 664.3L736.3 651.4 Q736.6 649.4 737.4 651.2L738.3 653.2 Q739.1 655 739.8 653.5L740.2 652.8 Q740.9 651.2 741.7 653.1L743.9 658.8 Q744.7 660.6 745.1 662.6L747.1 673.7 Q747.5 675.6 748.4 673.8L752.2 666.2 Q753.1 664.4 753.3 662.4L755.8 636.4 Q755.9 634.4 756.2 636.4L758.1 649.3 Q758.4 651.2 758.4 653.2L759.6 686.8 Q759.7 688.8 759.8 690.7L761.5 724.3 Q761.6 726.2 761.9 728.2L763.1 735.5 Q763.4 737.5 763.8 735.5L765 728.2 Q765.3 726.2 765.4 724.3L766.2 696.4 Q766.2 694.4 767 696.2L767.8 698.1 Q768.5 700 769.3 698.2L770.1 696.2 Q770.9 694.4 771.4 696.3L773.3 705.5 Q773.8 707.5 773.8 709.5L775.5 743 Q775.6 745 775.7 747L777.4 779.6 Q777.5 781.6 777.6 779.6L779.3 728.2 Q779.4 726.2 779.5 724.3L782 694.5 Q782.2 692.5 782.8 690.6L785.3 682.2 Q785.9 680.3 787 682L787.7 683.3 Q788.8 685 790.2 686.4L791.1 687.3 Q792.5 688.8 792.6 690.7L794.6 716.8 Q794.8 718.8 795.7 718.8L796.2 718.8 Q797.2 718.8 797.5 720.7L799.7 735.5 Q800 737.5 800.3 739.5L802.5 756.1 Q802.8 758.1 803.1 760.1L805.3 774 Q805.6 775.9 806.3 774L807.8 769.4 Q808.4 767.5 808.6 769.5L811.1 797.4 Q811.2 799.4 811.8 801.3L814.4 810 Q815 811.9 815.5 813.8L816.7 818.4 Q817.2 820.3 818.2 821.1L818.7 821.4 Q819.7 822.2 819.8 824.2L820.5 839.9 Q820.6 841.9 820.8 843.9L822 860.5 Q822.1 862.5 822.7 864.4L823.8 868.1 Q824.4 870 825.8 871.4L826.7 872.3 Q828.1 873.8 828.3 875.7L829.8 890.5 Q830 892.5 830.5 894.4L832.3 901.8 Q832.8 903.8 833.3 905.7L835.6 915.9 Q836 917.8 836.3 915.8L838.1 903.9 Q838.4 901.9 839.1 903.8L839.7 905.6 Q840.3 907.5 840.4 905.5L841.6 860.7 Q841.6 858.8 842.1 856.8L843.6 850.4 Q844.1 848.4 844.2 850.4L845.8 868 Q845.9 870 846.1 872L847.7 899.9 Q847.8 901.9 847.9 903.9L849 928 Q849.1 930 849.3 928L850.9 903.9 Q851 901.9 851.9 900.1L852.5 899 Q853.4 897.2 854.2 898.3L854.6 898.9 Q855.3 900 855.5 898L857 875.7 Q857.2 873.8 857.4 871.8L858.9 857 Q859.1 855 859.3 853L861.3 833.6 Q861.5 831.6 861.7 833.5L863.5 849.3 Q863.8 851.2 864.1 853.2L866.2 866.2 Q866.6 868.1 867 870.1L870.8 885.9 Q871.2 887.8 871.6 885.8L873.2 875.7 Q873.5 873.8 874.4 872L875 870.8 Q875.9 869.1 876.2 871L877.6 883 Q877.8 885 878 887L879.5 901.8 Q879.7 903.8 880.7 905.5L881.5 906.7 Q882.5 908.4 882.6 906.4L883.4 875.7 Q883.4 873.8 883.5 871.8L884.3 838.2 Q884.4 836.2 884.4 834.3L885.2 810.1 Q885.3 808.1 885.4 806.1L886.2 791.4 Q886.2 789.4 886.9 787.5L889.3 780.6 Q890 778.8 890.4 776.8L893.4 762 Q893.8 760 894.3 758.1L897 748.8 Q897.5 746.9 897.7 744.9L899.5 728.2 Q899.8 726.2 899.9 724.3L902.1 690.7 Q902.2 688.8 902.3 686.8L903.9 662.6 Q904.1 660.6 904.3 658.6L905.7 647.6 Q905.9 645.6 906.6 643.7L909 637.2 Q909.7 635.3 910.8 635.3L911.4 635.3 Q912.5 635.3 913 637.2L914.8 643.7 Q915.3 645.6 915.6 647.6L917.8 662.4 Q918.1 664.4 919.2 665.1L919.8 665.5 Q920.9 666.2 921.7 668.1L924.9 675.7 Q925.6 677.5 926.5 675.7L927.5 673.7 Q928.4 671.9 928.6 669.9L930.1 653.2 Q930.3 651.2 930.9 649.3L931.6 646.6 Q932.2 644.7 932.4 646.7L933.9 664.3 Q934.1 666.2 934.7 668.1L937.2 675.6 Q937.8 677.5 938.2 679.5L939.3 684.9 Q939.7 686.9 940.4 687.6L940.8 688 Q941.6 688.8 941.9 690.7L945.9 714.9 Q946.2 716.9 946.9 715L948.9 709.4 Q949.6 707.5 949.8 709.5L950.8 720.5 Q950.9 722.5 951.3 724.5L953.4 735.5 Q953.8 737.5 955.6 737.9L956.6 738.1 Q958.4 738.4 958.6 740.4L960.2 769.3 Q960.3 771.2 960.9 769.3L963.5 760 Q964.1 758.1 964.6 756.2L967.8 745 Q968.4 743.1 968.8 745.1L971.1 756.2 Q971.6 758.1 971.9 760.1L975.9 784.3 Q976.2 786.2 977.1 788L979.1 792 Q980 793.8 980.7 795.6L982.1 799.4 Q982.8 801.2 983.5 803.1L984 804.4 Q984.7 806.2 984.9 808.2L987.3 831.4 Q987.5 833.4 987.8 831.5L990 819.5 Q990.3 817.5 990.5 815.5L992.9 795.7 Q993.1 793.8 994.6 794.5L995.4 794.9 Q996.9 795.6 997.3 793.7L999.3 784.5 Q999.7 782.5 1000 780.5L1002.5 765.7 Q1002.9 763.8 1003.4 765.7L1005.7 773.1 Q1006.2 775 1006.4 777L1008 795.5 Q1008.1 797.5 1008.2 799.5L1008.9 814.6 Q1009 816.6 1009.2 814.6L1013 764.5 Q1013.1 762.5 1013.2 760.5L1014.9 732.6 Q1015 730.6 1015.5 732.6L1016.8 738.1 Q1017.2 740 1019 740.4L1019.8 740.6 Q1021.6 740.9 1021.9 742.9L1023.1 751.1 Q1023.4 753.1 1023.7 755.1L1026.9 775.5 Q1027.2 777.5 1027.5 779.5L1028.7 786.8 Q1029.1 788.8 1029.5 786.8L1030.5 782.3 Q1030.9 780.3 1031.9 780.7L1032.4 780.9 Q1033.4 781.2 1033.9 783.2L1036 790.6 Q1036.6 792.5 1037.3 793.1L1037.7 793.4 Q1038.4 794.1 1039.9 794.8L1040.7 795.2 Q1042.2 795.9 1042.3 797.9L1043.9 824.9 Q1044.1 826.9 1044.1 828.9L1044.9 860.5 Q1045 862.5 1045.3 864.5L1046.5 871.8 Q1046.9 873.8 1047.8 875.5L1050 879.5 Q1051 881.2 1051.7 879.4L1054.6 871.9 Q1055.3 870 1055.8 868.1L1057.6 860.7 Q1058.1 858.8 1058.7 860.7L1059.8 864.3 Q1060.4 866.2 1060.6 864.3L1062.6 847.6 Q1062.8 845.6 1063.1 843.6L1064.4 835.4 Q1064.7 833.4 1065.7 833.8L1066.2 834 Q1067.1 834.4 1067.3 836.4L1068.3 846.4 Q1068.4 848.4 1068.5 846.4L1069.3 819.5 Q1069.4 817.5 1069.4 815.5L1069.7 764.5 Q1069.8 762.5 1069.8 760.5L1070.8 730.7 Q1070.9 728.8 1072.5 729.1L1073.3 729.3 Q1075 729.7 1076.2 728.1L1077.2 726.6 Q1078.4 725 1078.6 723L1080.1 708.2 Q1080.2 706.2 1080.3 704.3L1081.5 680.1 Q1081.6 678.1 1082 676.2L1083 670.7 Q1083.4 668.8 1084.6 668L1085.1 667.6 Q1086.2 666.9 1087.3 668.6L1088.6 670.8 Q1089.6 672.5 1090.2 670.6L1091.3 666.9 Q1091.9 665 1092.8 666.8L1095 670.7 Q1096 672.5 1096.2 670.5L1097.3 657.6 Q1097.5 655.6 1097.7 653.6L1099.2 633.2 Q1099.4 631.2 1099.6 629.3L1101.9 612.6 Q1102.2 610.6 1102.7 612.6L1104.1 618.1 Q1104.6 620 1105 618L1106.9 608.8 Q1107.2 606.9 1107.6 608.8L1109.4 619.9 Q1109.7 621.9 1110.7 620.2L1111.5 618.9 Q1112.5 617.2 1114.1 615.9L1115.6 614.7 Q1117.2 613.4 1118.7 612.2L1120.3 610.9 Q1121.9 609.7 1122 611.7L1123.6 629.3 Q1123.8 631.2 1123.9 629.3L1125.8 604.2 Q1126 602.2 1126.1 604.2L1127.7 629.3 Q1127.9 631.2 1128 629.3L1129.2 614.5 Q1129.4 612.5 1129.4 614.5L1130.3 648 Q1130.3 650 1130.4 652L1132.1 681.8 Q1132.2 683.8 1132.6 685.7L1134.6 694.9 Q1135 696.9 1135.4 698.8L1138.3 712.7 Q1138.8 714.7 1139.3 712.8L1141 706.3 Q1141.6 704.4 1142.3 702.5L1143.7 698.7 Q1144.4 696.9 1144.9 698.8L1146.6 704.3 Q1147.2 706.2 1147.3 704.3L1148.4 689.5 Q1148.5 687.5 1148.8 685.5L1150.7 672.6 Q1150.9 670.6 1151.2 668.6L1153.5 652 Q1153.8 650 1154.9 648.5L1155.4 647.8 Q1156.6 646.2 1157.9 644.8L1160.3 642.1 Q1161.6 640.6 1162.3 642.5L1164.3 648.1 Q1165 650 1166.5 650L1167.2 650 Q1168.8 650 1169.1 652L1171.2 664.9 Q1171.6 666.9 1172 668.8L1173.9 676.2 Q1174.4 678.1 1175.1 676.6L1175.5 675.9 Q1176.2 674.4 1176.6 676.3L1178.7 689.3 Q1179.1 691.2 1179.6 693.2L1181.3 698.7 Q1181.9 700.6 1182 702.6L1183.6 726.8 Q1183.8 728.8 1184 730.7L1185.7 742.7 Q1186 744.7 1186.2 742.7L1188.3 719.5 Q1188.4 717.5 1188.7 715.5L1190 705.4 Q1190.3 703.4 1190.6 705.4L1192.8 719.3 Q1193.1 721.2 1193.4 723.2L1195.7 741.8 Q1195.9 743.8 1196.1 745.7L1198.6 769.9 Q1198.8 771.9 1199.1 773.9L1201.3 787.7 Q1201.6 789.7 1203.1 789.6L1203.8 789.5 Q1205.3 789.4 1205.6 791.4L1206.9 800.5 Q1207.2 802.5 1207.2 800.5L1208.1 764.5 Q1208.1 762.5 1208.3 760.5L1209.9 736.4 Q1210 734.4 1210.4 732.4L1211.9 725.1 Q1212.2 723.1 1213.6 724.6L1214.3 725.4 Q1215.6 726.9 1215.8 724.9L1217.3 706.4 Q1217.5 704.4 1218.2 706.2L1219 708.1 Q1219.8 710 1220.6 708.2L1222.3 704.3 Q1223.1 702.5 1223.5 700.5L1225.5 691.3 Q1225.9 689.4 1226.5 691.3L1228.2 696.8 Q1228.8 698.8 1229.8 697L1230.5 695.8 Q1231.6 694.1 1232 696L1233.9 704.3 Q1234.4 706.2 1234.6 708.2L1237 728.6 Q1237.2 730.6 1237.9 731.4L1238.3 731.8 Q1239.1 732.5 1239.2 734.5L1240.8 751.1 Q1240.9 753.1 1241.2 755.1L1242.9 766.1 Q1243.2 768.1 1243.4 766.1L1245.4 749.5 Q1245.6 747.5 1245.9 745.5L1249.1 722.3 Q1249.4 720.3 1249.7 722.3L1253.7 743.7 Q1254.1 745.6 1254.3 743.6L1256.7 719.5 Q1256.9 717.5 1257 715.5L1258.6 694.2 Q1258.8 692.2 1259.7 692.6L1260.1 692.8 Q1261 693.1 1261 695.1L1262.1 741.8 Q1262.1 743.8 1262.1 745.7L1262.9 815.5 Q1262.9 817.5 1262.9 819.5L1264.3 855.8 Q1264.4 857.8 1264.5 855.8L1266.2 819.5 Q1266.2 817.5 1266.4 815.5L1268 797 Q1268.1 795 1268.9 793.2L1270.1 790.3 Q1270.9 788.4 1272.1 788.8L1272.6 789 Q1273.8 789.4 1274.2 791.3L1277 802.4 Q1277.5 804.4 1277.9 802.4L1279.9 791.3 Q1280.3 789.4 1281.3 787.6L1282.5 785.5 Q1283.5 783.8 1283.9 785.7L1285.5 793 Q1285.9 795 1286.1 797L1287.7 824.9 Q1287.8 826.9 1287.9 828.9L1289.9 856.8 Q1290 858.8 1290 860.7L1290.9 901.8 Q1290.9 903.8 1291 905.7L1291.8 939.3 Q1291.9 941.2 1292 943.2L1292.7 957.1 Q1292.8 959.1 1294.3 958.3L1295.1 957.9 Q1296.6 957.2 1296.8 955.2L1298.2 941.4 Q1298.4 939.4 1299.6 937.7L1302 934.4 Q1303.1 932.8 1303.8 934.7L1305.3 939.4 Q1305.9 941.2 1306.4 943.2L1308.3 951.5 Q1308.8 953.4 1309.1 951.5L1311.2 941.3 Q1311.6 939.4 1311.9 941.3L1314 952.4 Q1314.4 954.4 1314.8 952.4L1317.4 939.5 Q1317.8 937.5 1318 939.5L1319.8 954.3 Q1320 956.2 1320.3 958.2L1321.9 968.3 Q1322.2 970.3 1322.4 968.3L1324.5 943.2 Q1324.7 941.2 1324.8 939.3L1326.5 905.7 Q1326.6 903.8 1326.7 901.8L1327.7 887.9 Q1327.9 885.9 1328.8 887.7L1330.3 890.7 Q1331.2 892.5 1332.7 891.1L1333.6 890.2 Q1335 888.8 1335.1 890.7L1336.8 918.6 Q1336.9 920.6 1337.3 918.7L1338.7 911.3 Q1339.1 909.4 1339.4 911.4L1341.3 926.1 Q1341.6 928.1 1342.1 930L1343.8 935.6 Q1344.4 937.5 1344.6 939.5L1346.4 958 Q1346.6 960 1346.7 962L1348 995.5 Q1348.1 997.5 1348.5 999.5L1349.6 1004.9 Q1350 1006.9 1351.1 1005.4L1351.7 1004.6 Q1352.8 1003.1 1353.8 1004.8L1354.6 1006.1 Q1355.6 1007.8 1356.9 1006.3L1358.1 1004.7 Q1359.4 1003.1 1360.1 1001.3L1361.5 997.5 Q1362.2 995.6 1362.8 993.7L1364.4 988.2 Q1365 986.2 1365.8 987.8L1366.1 988.5 Q1366.9 990 1367.1 988L1369.4 971.4 Q1369.7 969.4 1369.8 967.4L1371.4 943.2 Q1371.6 941.2 1371.7 939.3L1373.3 905.7 Q1373.4 903.8 1373.5 901.8L1374 863.2 Q1374 861.2 1374 859.2L1374.1 802 Q1374.1 800 1374.1 798L1374.2 774.4 Q1374.2 772.4 1374.4 770.4L1374.6 767.6 Q1374.8 765.6 1375.2 763.6L1375.6 761.4 Q1376 759.4 1376.6 757.7L1377 756.8 Q1377.6 755.1 1378.5 754.2L1379.8 752.8"/>
<g class="ar">
<polygon points="204.3,250.1 215.6,224.8 225.1,231.6 227.5,190.3 198.2,219.6 209.7,222.2 198.3,247.5"/>
<polygon points="383.1,188.4 401.1,166.9 408.2,175.9 421.9,136.9 386,157.3 396.1,162.7 378.1,184.2"/>
<polygon points="515,337.7 533.4,315.8 540.1,324.4 553.8,286.3 518.7,306.4 528.4,311.6 510,333.5"/>
<polygon points="912.5,443.8 976.9,417.1 979,428.1 1009.5,400 968,401.8 974.4,411.1 910.1,437.8"/>
<polygon points="1118.4,413.6 1184.5,386.7 1186.6,398 1217,370 1175.7,371.2 1182.1,380.7 1116,407.6"/>
</g>
<g class="ax" stroke-width="4">
<circle cx="173.2" cy="637.8" r="22.2"/>
<circle cx="381.3" cy="641" r="22.2"/>
<circle cx="492.4" cy="630.5" r="22.2"/>
<circle cx="920.3" cy="645.2" r="26.5"/>
<circle cx="1118.5" cy="607.8" r="26.5"/>
<circle cx="1381.3" cy="756.5" r="26.5"/>
</g>
<text class="lab" transform="translate(124.5 62.5) scale(1.04 1)" text-anchor="end">USD/</text>
<text class="lab" transform="translate(124 94.5) scale(1.04 1)" text-anchor="end">JPY</text>
<text class="lab" transform="translate(1477 62.5) scale(1.04 1)" text-anchor="start">USD/</text>
<text class="lab" transform="translate(1477 94.5) scale(1.04 1)" text-anchor="start">JPY</text>
<text class="lab" transform="translate(121.5 173.5) scale(1.04 1)" text-anchor="end">85</text>
<text class="lab" transform="translate(1520.5 173.5) scale(1.04 1)" text-anchor="end">85</text>
<text class="lab" transform="translate(121.5 247.7) scale(1.04 1)" text-anchor="end">95</text>
<text class="lab" transform="translate(1520.5 247.7) scale(1.04 1)" text-anchor="end">95</text>
<text class="lab" transform="translate(121.5 321.9) scale(1.04 1)" text-anchor="end">105</text>
<text class="lab" transform="translate(1520.5 321.9) scale(1.04 1)" text-anchor="end">105</text>
<text class="lab" transform="translate(121.5 395.6) scale(1.04 1)" text-anchor="end">115</text>
<text class="lab" transform="translate(1520.5 395.6) scale(1.04 1)" text-anchor="end">115</text>
<text class="lab" transform="translate(121.5 469.6) scale(1.04 1)" text-anchor="end">125</text>
<text class="lab" transform="translate(1520.5 469.6) scale(1.04 1)" text-anchor="end">125</text>
<text class="lab" transform="translate(121.3 607.8) scale(1.04 1)" text-anchor="end">120</text>
<text class="lab" transform="translate(1519.5 607.8) scale(1.04 1)" text-anchor="end">120</text>
<text class="lab" transform="translate(121.3 694.8) scale(1.04 1)" text-anchor="end">80</text>
<text class="lab" transform="translate(1519.5 694.8) scale(1.04 1)" text-anchor="end">80</text>
<text class="lab" transform="translate(121.3 782.6) scale(1.04 1)" text-anchor="end">40</text>
<text class="lab" transform="translate(1519.5 782.6) scale(1.04 1)" text-anchor="end">40</text>
<text class="lab" transform="translate(121.3 869.5) scale(1.04 1)" text-anchor="end">0</text>
<text class="lab" transform="translate(1519.5 869.5) scale(1.04 1)" text-anchor="end">0</text>
<text class="lab" transform="translate(121.3 957.5) scale(1.04 1)" text-anchor="end">-40</text>
<text class="lab" transform="translate(1519.5 957.5) scale(1.04 1)" text-anchor="end">-40</text>
<text class="lab" transform="translate(121.3 564.3) scale(1.04 1)" text-anchor="end" style="font-weight:normal;stroke-width:0.7px">%</text>
<text class="lab" transform="translate(1477.5 564.3) scale(1.04 1)" text-anchor="start" style="font-weight:normal;stroke-width:0.7px">%</text>
<text class="lab" transform="translate(864 110) scale(1.04 1)" text-anchor="start" style="letter-spacing:0.9px">USD / JPY (INVERTED)</text>
<text class="lab" transform="translate(245 541.5) scale(1.04 1)" text-anchor="start">NET SPECULATIVE POSITIONS</text>
<text class="lab" transform="translate(245 573.2) scale(1.04 1)" text-anchor="start" style="letter-spacing:0.9px">AS A % OF OPEN INTEREST*: USD MINUS JPY</text>
<text class="lab" transform="translate(191.6 1075.2) scale(1.04 1)" text-anchor="middle">2010</text>
<text class="lab" transform="translate(413.0 1075.2) scale(1.04 1)" text-anchor="middle">2012</text>
<text class="lab" transform="translate(634.4 1075.2) scale(1.04 1)" text-anchor="middle">2014</text>
<text class="lab" transform="translate(855.8 1075.2) scale(1.04 1)" text-anchor="middle">2016</text>
<text class="lab" transform="translate(1077.2 1075.2) scale(1.04 1)" text-anchor="middle">2018</text>
<text class="lab" transform="translate(1298.6 1075.2) scale(1.04 1)" text-anchor="middle">2020</text>
<text class="src" x="135.5" y="1119" text-anchor="start" textLength="500.5" lengthAdjust="spacingAndGlyphs">* SOURCE: COMMITMENT OF TRADERS REPORT.</text>
<text class="cr" y="1002.6" stroke="#103940" stroke-linejoin="round"><tspan x="1003" dy="-0.5" style="font-size:29.5px;stroke-width:0.3px">© </tspan><tspan x="1031.4" dy="0.5" style="font-size:32.6px;letter-spacing:-0.6px;stroke-width:0.7px">BC</tspan><tspan x="1072.4" style="font-family:'DejaVu Serif','Liberation Serif',serif;font-size:41px;stroke-width:0px">α </tspan><tspan x="1108.6" style="font-size:32px;letter-spacing:-0.3px;stroke-width:0.6px">Research </tspan><tspan x="1233.4" style="font-family:'DejaVu Sans','Liberation Sans',sans-serif;font-weight:200;font-size:23.3px;letter-spacing:0.4px;stroke-width:0.35px">2021</tspan></text>
</svg>
</body>
</html>
